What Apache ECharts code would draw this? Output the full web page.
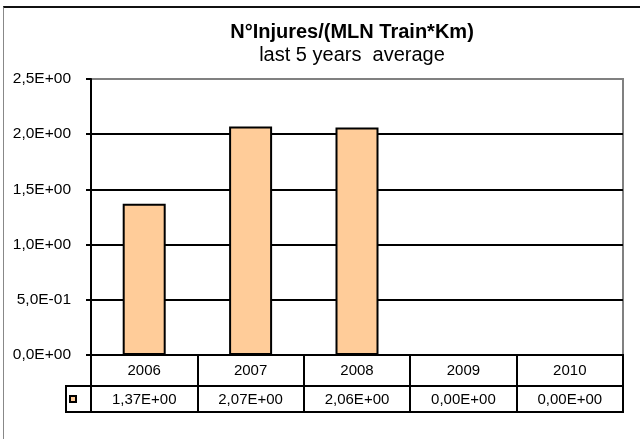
<!DOCTYPE html>
<html>
<head>
    <meta charset="UTF-8">
    <title>N°Injures/(MLN Train*Km)</title>
    <script src="https://cdn.jsdelivr.net/npm/echarts@6/dist/echarts.min.js"></script>
    <style>
        html, body { margin: 0; padding: 0; background: #fff; }
        #frame { position: absolute; left: 3px; top: 6px; width: 660px; height: 460px;
                 border-top: 2px solid #111; border-left: 1px solid #888; }
        #chart { position: absolute; left: 0; top: 0; width: 640px; height: 439px; }
    </style>
</head>
<body>
<div id="frame"></div>
<div id="chart"></div>

<script type="text/javascript">
    // data
    var years = ['2006', '2007', '2008', '2009', '2010'];
    var injuries = [1.37, 2.07, 2.06, 0, 0];
    var yMin = 0, yMax = 2.5, yStep = 0.5;

    var seriesName = 'N°Injures/(MLN Train*Km)';
    var font = 'Liberation Sans, Arial, sans-serif';

    // 1.37 -> "1,37E+00"
    function sci(v, digits) {
        var parts = v.toExponential(digits).split('e');
        var sign = parts[1].charAt(0) === '-' ? '-' : '+';
        var exp = parts[1].replace(/^[+-]/, '');
        if (exp.length < 2) exp = '0' + exp;
        return parts[0].replace('.', ',') + 'E' + sign + exp;
    }

    var valueLabels = injuries.map(function (v) { return sci(v, 2); });

    var black = '#000';
    var cellLine = { show: true, interval: 0, lineStyle: { color: black, width: 2 } };

    var chart = echarts.init(document.getElementById('chart'));

    var option = {
        animation: false,
        textStyle: { fontFamily: font },
        title: {
            text: seriesName,
            subtext: 'last 5 years  average',
            left: 347,
            top: 17,
            textAlign: 'center',
            itemGap: 3,
            textStyle: { fontFamily: font, fontSize: 20, fontWeight: 'bold', color: black },
            subtextStyle: { fontFamily: font, fontSize: 20, color: black }
        },
        legend: {
            data: [seriesName],
            left: 69,
            top: 395,
            icon: 'rect',
            itemWidth: 6,
            itemHeight: 6,
            padding: 0,
            formatter: function () { return ''; },
            selectedMode: false,
            itemStyle: { borderColor: black, borderWidth: 2 }
        },
        grid: [
            // plot area
            { left: 91, top: 79, width: 532, height: 276, show: true,
              borderColor: '#808080', borderWidth: 2 },
            // data table: years row
            { left: 91, top: 355, width: 532, height: 31, show: true,
              borderColor: black, borderWidth: 2 },
            // data table: values row
            { left: 91, top: 386, width: 532, height: 26, show: true,
              borderColor: black, borderWidth: 2 },
            // data table: legend key cell
            { left: 66, top: 386, width: 25, height: 26, show: true,
              borderColor: black, borderWidth: 2 }
        ],
        xAxis: [
            {
                type: 'category', gridIndex: 0, data: years,
                axisLine: { lineStyle: { color: black, width: 2 } },
                axisTick: { show: false },
                axisLabel: { show: false }
            },
            {
                type: 'category', gridIndex: 1, data: years,
                axisLine: { show: false },
                axisTick: { show: false },
                splitLine: cellLine,
                axisLabel: { inside: true, margin: 8, color: black, fontSize: 15, fontFamily: font }
            },
            {
                type: 'category', gridIndex: 2, data: valueLabels,
                axisLine: { show: false },
                axisTick: { show: false },
                splitLine: cellLine,
                axisLabel: { inside: true, margin: 5, color: black, fontSize: 15, fontFamily: font }
            },
            { type: 'value', gridIndex: 3, show: false }
        ],
        yAxis: [
            {
                type: 'value', gridIndex: 0,
                min: yMin, max: yMax, interval: yStep,
                axisLine: { show: true, lineStyle: { color: black, width: 2 } },
                axisTick: { show: true, length: 5, lineStyle: { color: black, width: 2 } },
                splitLine: { show: true, showMinLine: false, showMaxLine: false,
                             lineStyle: { color: black, width: 2 } },
                axisLabel: {
                    margin: 20, color: black, fontSize: 15.5, fontFamily: font,
                    formatter: function (v) { return sci(v, 1); }
                }
            },
            { type: 'value', gridIndex: 1, show: false },
            { type: 'value', gridIndex: 2, show: false },
            { type: 'value', gridIndex: 3, show: false }
        ],
        series: [
            {
                name: seriesName,
                type: 'bar',
                xAxisIndex: 0,
                yAxisIndex: 0,
                data: injuries,
                barWidth: 43,
                itemStyle: { color: '#FFCC99', borderColor: black, borderWidth: 2 }
            }
        ]
    };

    chart.setOption(option);
</script>
</body>
</html>
